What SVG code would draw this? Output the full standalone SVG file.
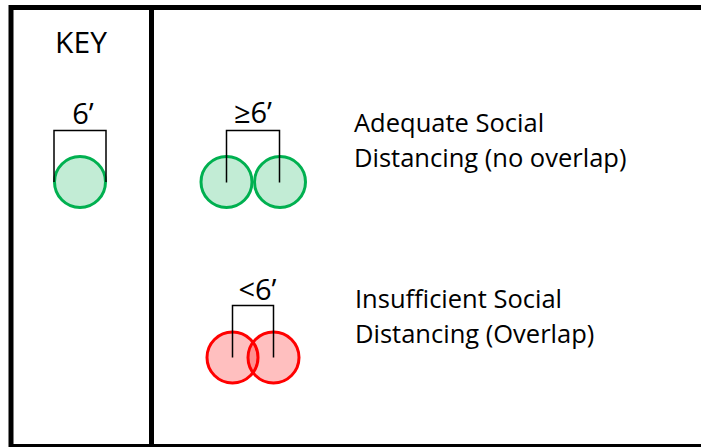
<svg xmlns="http://www.w3.org/2000/svg" width="701" height="447" viewBox="0 0 701 447">
<style>
text{font-family:"Open Sans",Lato,sans-serif;fill:#000}
.lbl{font-size:25.5px}
.num{font-size:29px;text-anchor:middle}
.key{font-size:30px;text-anchor:middle}
.frame{fill:none;stroke:#000;stroke-width:5}
.g{fill:#00B050;fill-opacity:0.24;stroke:#00B050;stroke-width:3}
.r{fill:#FF0000;fill-opacity:0.25;stroke:#FF0000;stroke-width:3}
.br{fill:none;stroke:#000;stroke-width:1.5}
</style>
<rect width="701" height="447" fill="#fff"/>
<g id="frame">
<rect class="frame" x="11" y="7.5" width="720" height="439"/>
<line class="frame" x1="151.5" y1="7.5" x2="151.5" y2="447"/>
</g>
<g id="key">
<text class="key" x="81" y="53">KEY</text>
<text class="num" x="83" y="124">6’</text>
<circle class="g" cx="80" cy="182" r="25.5"/>
</g>
<g id="adequate">
<circle class="g" cx="226.5" cy="182" r="25.5"/>
<circle class="g" cx="280" cy="182" r="25.5"/>
<text class="num" x="253" y="123">≥6’</text>
<text class="lbl" x="354" y="131.5">Adequate Social</text>
<text class="lbl" x="354" y="166.5">Distancing (no overlap)</text>
</g>
<g id="insufficient">
<circle class="r" cx="232.5" cy="357.5" r="25.5"/>
<circle class="r" cx="273.5" cy="357.5" r="25.5"/>
<text class="num" x="257.5" y="300">&lt;6’</text>
<text class="lbl" x="355" y="307.5">Insufficient Social</text>
<text class="lbl" x="355" y="342.5">Distancing (Overlap)</text>
</g>
<g id="connectors">
<path class="br" d="M54 182V130.5H106V182"/>
<path class="br" d="M226.5 182.5V130.5H279.5V182.5"/>
<path class="br" d="M232.5 357.5V305.5H273.5V357.5"/>
</g>
</svg>
